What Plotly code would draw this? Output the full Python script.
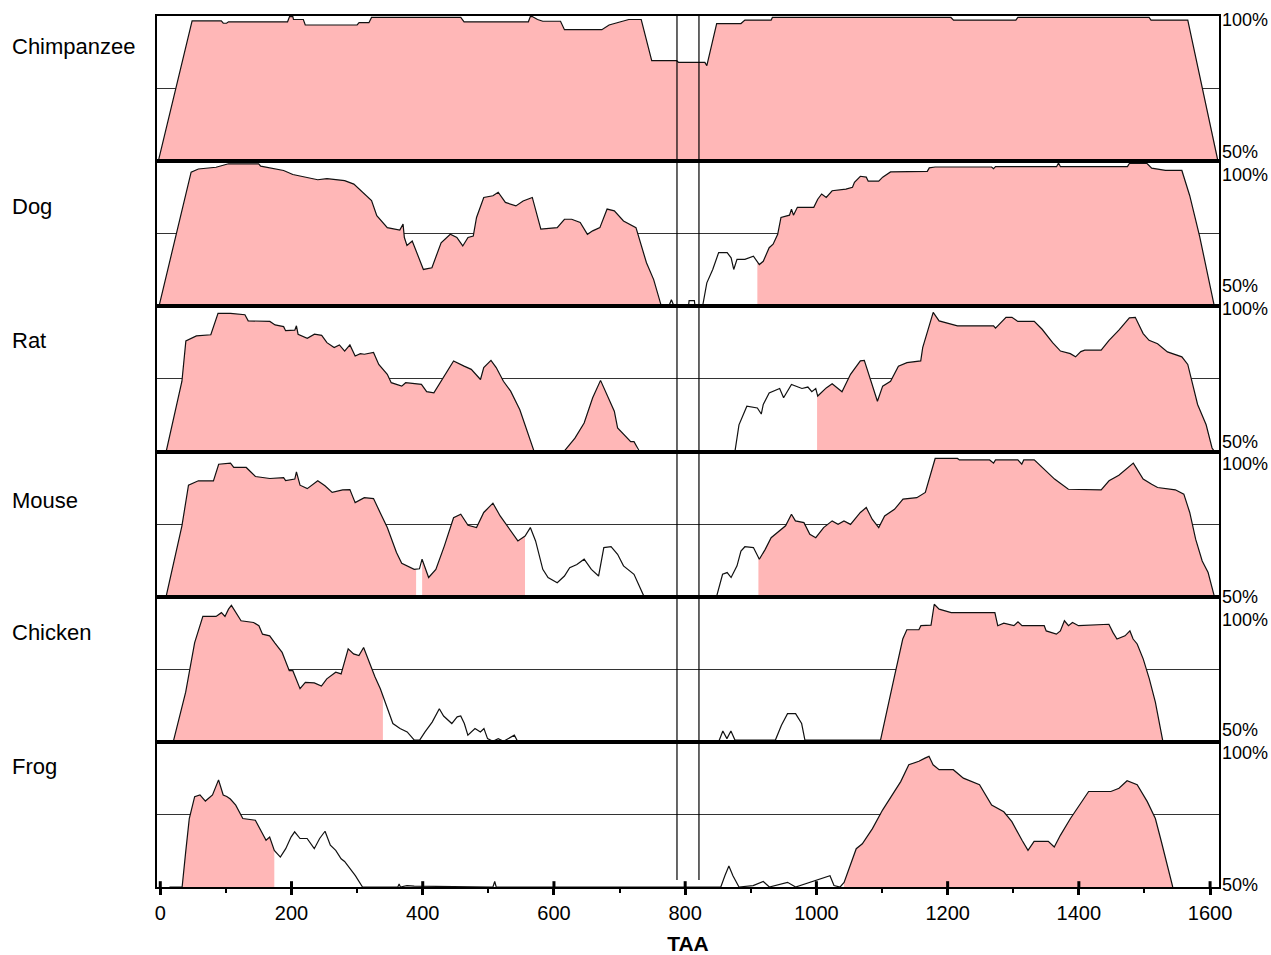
import numpy as np
import plotly.graph_objects as go
from plotly.subplots import make_subplots

species = ["Chimpanzee", "Dog", "Rat", "Mouse", "Chicken", "Frog"]
x_ticks = [0, 200, 400, 600, 800, 1000, 1200, 1400, 1600]
x_minor = [100, 300, 500, 700, 900, 1100, 1300, 1500]
gap_lines = [787.5, 821.0]

# (TAA position, % identity) points
chimp = [(-3, 50), (48.5, 98.3), (93, 98.3), (96, 97.5), (101, 97.5), (104, 98.0), (194, 98.0), (197, 99.8),
         (202, 99.8), (203, 98.8), (218, 98.8), (221, 96.9), (300, 96.9), (303, 97.7), (318, 97.7), (322, 99.5),
         (458, 99.5), (463, 98.0), (561, 98.0), (564, 99.8), (567, 99.8), (575, 98.8), (583, 98.2), (610, 98.2),
         (616, 95.3), (673, 95.3), (684, 96.9), (714, 98.8), (733, 98.8), (749, 84.6), (787, 84.6), (790, 84.0),
         (830, 84.0), (833, 82.9), (848, 97.4), (885, 97.4), (891, 98.6), (931, 98.6), (933, 99.5), (1205, 99.5),
         (1209, 98.6), (1304, 98.6), (1307, 99.5), (1507, 99.5), (1510, 98.6), (1566, 98.6), (1612, 50)]
chimp_fill = [(-5, 1613)]

dog = [(-2, 50), (47, 96.2), (58, 97.3), (85, 97.9), (104, 99.1), (150, 99.1), (153, 98.3), (167, 97.6), (188, 96.8),
       (202, 95.4), (224, 94.5), (240, 93.6), (254, 94.0), (267, 93.6), (281, 93.3), (295, 92.1), (308, 89.3),
       (322, 86.4), (330, 81.2), (341, 78.3), (346, 77.1), (365, 76.3), (370, 78.3), (372, 73.7), (376, 71.0),
       (384, 72.5), (401, 62.7), (414, 63.3), (420, 67.3), (428, 71.9), (442, 74.8), (452, 73.7), (461, 70.8),
       (469, 73.7), (477, 74.2), (482, 80.6), (493, 87.5), (507, 88.1), (515, 89.3), (526, 85.8), (542, 84.6),
       (553, 86.3), (567, 87.5), (580, 76.6), (605, 77.1), (616, 80.0), (627, 80.0), (640, 78.9), (651, 74.8),
       (659, 76.0), (670, 77.1), (681, 83.5), (692, 82.9), (706, 79.4), (725, 77.1), (741, 65.0), (752, 59.2),
       (763, 50.6), (775, 50), (779, 52.3), (783, 50), (805, 50), (806, 52), (814, 52), (815, 50), (827, 50.6),
       (833, 58.1), (842, 62.7), (851, 68.5), (864, 68.5), (870, 66.7), (874, 62.7), (879, 66.2), (891, 66.2),
       (904, 67.3), (913, 64.4), (919, 65.5), (928, 70.2), (934, 71.4), (941, 74.8), (946, 80.6), (959, 81.4),
       (962, 83.5), (965, 81.4), (971, 84.1), (996, 84.1), (1002, 86.9), (1008, 88.7), (1015, 87.5), (1024, 89.8),
       (1045, 90.4), (1055, 91.0), (1058, 92.7), (1067, 94.8), (1076, 94.5), (1079, 93.1), (1095, 93.1),
       (1101, 94.5), (1113, 96.3), (1169, 96.5), (1172, 97.7), (1181, 98.0), (1267, 98.0), (1270, 97.4),
       (1273, 98.1), (1366, 98.1), (1369, 99.4), (1372, 98.1), (1474, 98.1), (1477, 99.2), (1504, 99.2),
       (1511, 97.6), (1532, 96.8), (1557, 96.8), (1569, 88.1), (1584, 74.2), (1606, 50.6)]
dog_fill = [(-3, 763), (910, 1606)]

rat = [(-2, 50), (9, 50), (33, 74.2), (39, 88.1), (55, 89.8), (77, 90.2), (88, 97.6), (107, 97.6), (129, 97.1),
       (134, 95.0), (167, 94.8), (175, 93.6), (188, 93.0), (191, 91.6), (205, 91.8), (207.5, 93.3), (210, 90.4),
       (224, 89.0), (235, 90.4), (246, 90.0), (254, 87.5), (265, 85.8), (273, 86.7), (281, 84.6), (289, 86.7),
       (297, 82.9), (305, 83.7), (311, 83.5), (325, 84.1), (333, 80.0), (346, 76.6), (352, 73.7), (368, 72.5),
       (374, 73.7), (398, 73.1), (406, 70.6), (417, 70.2), (425, 73.1), (436, 77.1), (447, 81.2), (463, 79.4),
       (474, 78.3), (488, 74.8), (493, 78.9), (504, 81.4), (512, 78.9), (523, 74.2), (534, 70.8), (548, 64.4),
       (559, 56.9), (569.5, 50.2), (616, 50.2), (632, 54.6), (646, 59.8), (659, 68.5), (671, 74.5), (681, 69.6),
       (692, 63.9), (697, 58.1), (711, 54.6), (717, 53.4), (722, 53.4), (730, 50.2), (876, 50.2), (882, 59.2),
       (894, 65.6), (910, 65.0), (916, 62.9), (919, 66.2), (928, 70.2), (944, 71.7), (950, 68.5), (962, 73.1),
       (978, 71.7), (987, 72.2), (993, 70.6), (999, 71.7), (1002, 69.1), (1015, 71.9), (1024, 73.3), (1039, 70.6),
       (1052, 76.6), (1067, 81.2), (1073, 81.4), (1082, 75.4), (1093, 67.3), (1101, 72.5), (1113, 74.2),
       (1125, 79.4), (1138, 80.6), (1159, 81.2), (1162, 85.8), (1178, 97.9), (1187, 95.0), (1215, 93.3),
       (1270, 93.3), (1273, 92.5), (1283, 94.8), (1289, 96.2), (1298, 96.2), (1307, 94.8), (1332, 94.8),
       (1344, 92.1), (1360, 87.5), (1372, 84.6), (1387, 83.7), (1395, 82.6), (1403, 84.4), (1409, 84.9),
       (1434, 84.9), (1446, 88.3), (1461, 91.8), (1477, 96.0), (1486, 96.2), (1498, 90.6), (1507, 88.3),
       (1520, 87.1), (1535, 84.3), (1557, 82.6), (1566, 80.0), (1572, 74.2), (1581, 66.2), (1594, 59.2),
       (1603, 51.2), (1606, 50.2)]
rat_fill = [(-3, 569.5), (612, 726), (1001, 1606)]

mouse = [(-2, 50), (9, 50.2), (33, 74.4), (43, 88.4), (58, 89.9), (81, 89.9), (89, 95.6), (107, 96.0), (112, 94.5),
         (131, 94.5), (145, 91.4), (167, 90.7), (188, 91.0), (191, 90.0), (205, 90.5), (207.5, 93.0), (213, 88.4),
         (224, 87.2), (240, 89.9), (251, 88.2), (262, 85.9), (278, 86.8), (289, 86.9), (297, 82.4), (311, 84.1),
         (325, 83.8), (335, 79.0), (346, 73.8), (360, 65.2), (368, 61.5), (387, 59.4), (395, 59.6), (399, 62.9),
         (409, 56.6), (420, 59.4), (433, 67.5), (447, 77.2), (458, 78.4), (469, 74.6), (482, 73.8), (493, 79.0),
         (507, 82.2), (518, 77.8), (529, 74.4), (537, 71.5), (545, 69.2), (556, 70.9), (564, 73.8), (572, 69.2),
         (583, 59.4), (591, 56.6), (605, 54.8), (616, 57.1), (624, 60.0), (635, 61.1), (646, 62.9), (657, 59.4),
         (668, 57.1), (676, 66.9), (687, 67.2), (697, 64.6), (706, 60.6), (722, 57.7), (737, 50.2), (848, 50.2),
         (857, 57.7), (864, 58.3), (870, 56.6), (879, 60.6), (885, 65.7), (891, 67.2), (904, 66.9), (913, 62.9),
         (922, 66.3), (931, 70.3), (944, 72.6), (953, 74.4), (962, 78.4), (968, 76.1), (981, 75.5), (990, 71.5),
         (999, 70.3), (1011, 73.8), (1024, 76.1), (1033, 74.9), (1042, 76.1), (1052, 74.9), (1067, 79.0),
         (1076, 80.7), (1085, 76.7), (1095, 73.8), (1104, 77.8), (1119, 80.1), (1132, 83.6), (1153, 84.1),
         (1166, 85.9), (1181, 97.6), (1215, 97.6), (1218, 97.1), (1264, 97.1), (1270, 96.0), (1273, 97.1),
         (1307, 97.1), (1313, 95.6), (1316, 97.1), (1332, 97.1), (1347, 93.9), (1363, 90.5), (1384, 87.0),
         (1434, 86.8), (1446, 89.9), (1461, 91.8), (1483, 96.0), (1498, 90.5), (1511, 88.7), (1520, 87.6),
         (1547, 86.8), (1560, 85.3), (1569, 79.0), (1578, 69.8), (1588, 62.3), (1597, 58.3), (1606, 50.5)]
mouse_fill = [(-3, 389.9), (399.1, 555.9), (911.6, 1606)]

chicken = [(19.7, 50), (38.7, 67.1), (52.4, 84.2), (64.9, 93.2), (85, 93.2), (93.2, 94.5), (98.6, 93.2),
           (104, 95.7), (108.4, 97.0), (113.9, 95.1), (123.1, 91.7), (142.2, 91.1), (150.3, 90.0), (155.8, 87.1),
           (166.7, 86.5), (174.8, 84.0), (185.7, 80.8), (196.6, 74.5), (202, 74.5), (213, 68.3), (221.1, 70.5),
           (234.7, 70.3), (245.6, 69.2), (253.8, 71.7), (267.4, 74.0), (275.6, 73.4), (286.4, 82.0), (294.6, 80.3),
           (302.8, 79.7), (309.9, 82.5), (316.4, 78.5), (327.3, 72.3), (335.4, 68.3), (343.6, 63.1), (354.5, 56.3),
           (365.4, 54.6), (376.3, 53.4), (387.2, 50.6), (395.3, 50.6), (403.5, 53.4), (414.4, 56.8), (425.3, 61.4),
           (431.8, 58.9), (444.3, 56.3), (452.5, 58.6), (457.9, 58.9), (463.4, 56.3), (468.8, 52.3), (479.7, 54.6),
           (487.9, 53.4), (493.3, 54.6), (498.8, 51.1), (506.9, 50.2), (515.1, 51.1), (523.2, 50.2), (539.6, 52.3),
           (545, 50), (851, 50), (857.4, 53.7), (863.6, 51.1), (869.7, 53.7), (875.9, 50.6), (937.5, 50.6),
           (946.7, 55.7), (956, 59.7), (968.3, 59.7), (977.5, 56.3), (982.5, 50.6), (1097.7, 50.6), (1119.2, 72.8),
           (1131.6, 85.4), (1137.8, 88.6), (1156.2, 88.6), (1159.3, 90), (1174.7, 90.2), (1179.6, 97.4),
           (1187, 95.7), (1205.5, 94.5), (1272, 94.5), (1276.4, 90), (1285.6, 90.9), (1301, 90), (1307.2, 91.3),
           (1313.4, 90), (1347.2, 90), (1350.3, 88.2), (1365.7, 87.1), (1371.8, 88.2), (1378, 91.7), (1384.2, 90),
           (1390.3, 91.1), (1399.5, 90), (1445.8, 90.5), (1451.9, 87.7), (1458.1, 85.4), (1470.4, 86.5),
           (1477.8, 88.2), (1482.7, 85.4), (1488.9, 83.7), (1498.2, 78.5), (1507.4, 71.7), (1516.6, 63.7),
           (1522.8, 55.7), (1527.7, 50.6)]
chicken_fill = [(19, 339.3), (1082, 1528)]

frog = [(14, 50), (33.3, 50), (38.7, 62), (44.2, 73.6), (52.4, 81.1), (60.5, 81.7), (68.7, 79.6), (79.6, 81.7),
        (88.8, 86.9), (95.9, 81.7), (101.3, 81.2), (106.8, 80.3), (115, 78.2), (125.8, 73.6), (144.9, 73),
        (153.1, 69.6), (161.2, 66.1), (166.7, 67.2), (173.8, 62.6), (183, 60.3), (191.2, 63.2), (199.3, 67.2),
        (204.8, 69), (213, 66.7), (223.8, 66.7), (234.7, 63.2), (242.9, 66.7), (251.1, 69.2), (259.2, 64.4),
        (267.4, 62.6), (275.6, 59.7), (280.9, 58.8), (289.2, 56.3), (297.3, 53.9), (308.2, 50), (362, 50),
        (364, 51), (366, 50), (376, 50.5), (387, 50.3), (507, 50), (509.7, 51.9), (512, 50), (854.3, 50),
        (860.5, 53.9), (866.6, 57.2), (872.8, 53.9), (882, 50), (903.6, 50.5), (919, 51.9), (928.3, 50),
        (956, 51.6), (968.3, 50), (1020.7, 53.9), (1026.8, 50.5), (1036.1, 50), (1042.2, 51.6), (1051.5, 57.4),
        (1060.7, 63.2), (1070, 64.9), (1085.4, 70.1), (1100.8, 76.5), (1116.2, 81.7), (1128.5, 86.3),
        (1140.8, 92.1), (1156.2, 93.3), (1165.5, 94.4), (1171.6, 95), (1177.8, 92.1), (1187, 90.4),
        (1208.6, 90.4), (1224, 87.5), (1248.6, 85.2), (1267.1, 78.2), (1285.6, 75.9), (1297.9, 72.5),
        (1313.4, 66.1), (1322.5, 62.6), (1331.8, 65.7), (1353.4, 65.7), (1362.5, 63.8), (1371.8, 67.8),
        (1387.2, 73.6), (1402.6, 78.8), (1414.9, 82.9), (1448.8, 82.9), (1461.2, 84), (1473.5, 86.6),
        (1488.9, 85.2), (1504.3, 79.4), (1516.6, 73.6), (1525.9, 65.5), (1535.1, 57.4), (1543.1, 50)]
frog_fill = [(14, 173.8), (1042, 1543)]

series = [chimp, dog, rat, mouse, chicken, frog]
fills = [chimp_fill, dog_fill, rat_fill, mouse_fill, chicken_fill, frog_fill]

# ---------------- layout geometry (pixels) ----------------
W, H = 1271, 955
L, R, T, B = 157, 52, 16, 68
PW, PH = W - L - R, H - T - B
FONT = "Arial, Liberation Sans, sans-serif"
PINK = "#FFB7B7"


def px_x(px):
    return (px - L) / PW


def px_y(py):
    return (H - B - py) / PH


fig = make_subplots(rows=6, cols=1, shared_xaxes=True, vertical_spacing=0)

for i, (pts, fl) in enumerate(zip(series, fills), start=1):
    xs = np.array([p[0] for p in pts], dtype=float)
    ys = np.array([p[1] for p in pts], dtype=float)
    for a, b in fl:
        m = (xs > a) & (xs < b)
        fx = np.concatenate([[a], xs[m], [b]])
        fy = np.concatenate([[np.interp(a, xs, ys)], ys[m], [np.interp(b, xs, ys)]])
        fig.add_trace(go.Scatter(x=fx, y=fy, mode="lines", line=dict(width=0), fill="tozeroy",
                                 fillcolor=PINK, hoverinfo="skip", showlegend=False), row=i, col=1)
    fig.add_trace(go.Scatter(x=xs, y=ys, mode="lines", line=dict(color="#111111", width=1.2),
                             showlegend=False, name=species[i - 1]), row=i, col=1)
    fig.update_yaxes(range=[50, 100], tickvals=[75], showticklabels=False, ticks="", showgrid=True,
                     gridcolor="#333333", gridwidth=1, showline=True, mirror=True, linecolor="black",
                     linewidth=1.6, zeroline=False, row=i, col=1)

fig.update_xaxes(range=[-5, 1613.6], showgrid=False, showline=True, mirror=True, linecolor="black",
                 linewidth=1.6, zeroline=False, ticks="")
fig.update_xaxes(row=6, col=1, ticks="outside", tickvals=x_ticks, ticktext=[str(v) for v in x_ticks],
                 ticklen=6, tickwidth=3, tickcolor="black", showticklabels=True,
                 tickfont=dict(family=FONT, size=20, color="black"), ticklabelstandoff=1,
                 minor=dict(tickvals=x_minor, ticks="outside", ticklen=4, tickwidth=1.5, tickcolor="black"),
                 title=dict(text="<b>TAA</b>", font=dict(family=FONT, size=21, color="black"), standoff=16),
                 automargin=False)

# inner half of the major ticks (they cross the axis line)
for v in x_ticks:
    fig.add_shape(type="line", xref="x6", yref="y6 domain", x0=v, x1=v, y0=0, y1=0.04,
                  line=dict(color="black", width=3), layer="above")

# vertical guide lines across all panels
for v in gap_lines:
    fig.add_shape(type="line", xref="x", yref="paper", x0=v, x1=v, y0=px_y(880), y1=1,
                  line=dict(color="black", width=1.2), layer="above")

# species labels
label_y = [46, 207, 340, 500, 632, 766]
for name, py in zip(species, label_y):
    fig.add_annotation(text=name, xref="paper", yref="paper", x=px_x(10), y=px_y(py),
                       xanchor="left", yanchor="middle", showarrow=False,
                       font=dict(family=FONT, size=22, color="black"))

# percent labels on the right
top_y = [20, 175, 309, 464, 620, 753]
bot_y = [152, 286, 442, 597, 730, 885]
for py in top_y:
    fig.add_annotation(text="100%", xref="paper", yref="paper", x=px_x(1220), y=px_y(py),
                       xanchor="left", yanchor="middle", showarrow=False,
                       font=dict(family=FONT, size=18, color="black"))
for py in bot_y:
    fig.add_annotation(text="50%", xref="paper", yref="paper", x=px_x(1220), y=px_y(py),
                       xanchor="left", yanchor="middle", showarrow=False,
                       font=dict(family=FONT, size=18, color="black"))

fig.update_layout(width=W, height=H, margin=dict(l=L, r=R, t=T, b=B, autoexpand=False),
                  plot_bgcolor="white", paper_bgcolor="white", showlegend=False,
                  font=dict(family=FONT, color="black"))

fig.write_html("out.html", config={"displayModeBar": False},
               post_script="document.body.style.margin='0';document.body.style.overflow='hidden';")
